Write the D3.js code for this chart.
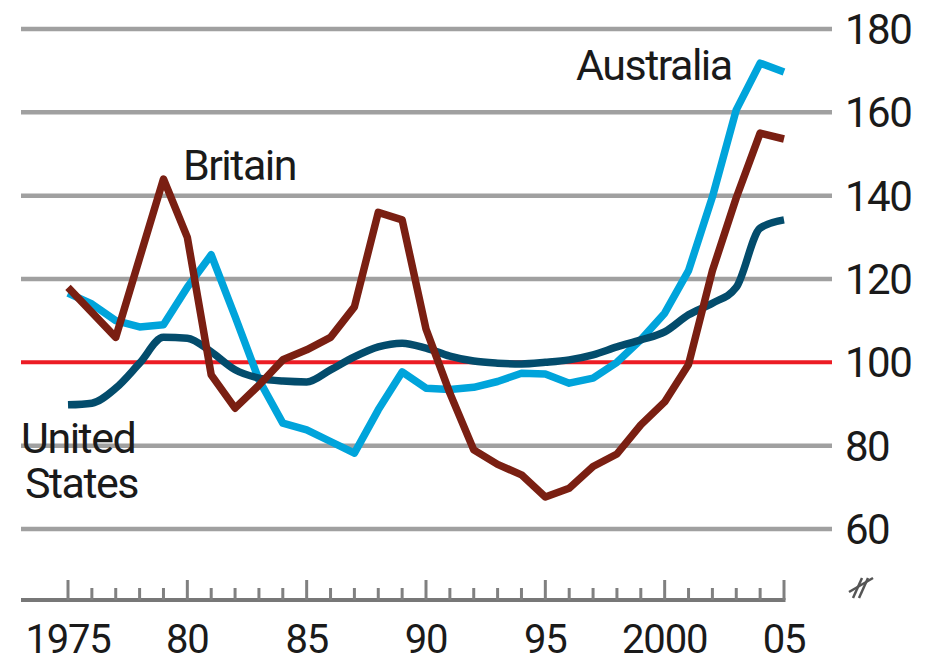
<!DOCTYPE html>
<html>
<head>
<meta charset="utf-8">
<script src="https://cdn.jsdelivr.net/npm/d3@7"></script>
<style>
  html, body { margin: 0; padding: 0; background: #fff; }
  svg { display: block; }
  text { font-family: Roboto, "DejaVu Sans", sans-serif; fill: #1a1a1a; }
</style>
</head>
<body>
<svg id="chart" width="927" height="664"></svg>
<script>
// ---- data ----
const years = [1975, 1976, 1977, 1978, 1979, 1980, 1981, 1982, 1983, 1984,
               1985, 1986, 1987, 1988, 1989, 1990, 1991, 1992, 1993, 1994,
               1995, 1996, 1997, 1998, 1999, 2000, 2001, 2002, 2003, 2004, 2005];
const britain = [118, 112, 106, 125, 144, 130, 97, 89, 94.5, 100.6,
                 103, 106, 113.3, 136, 134.2, 108, 92.6, 79, 75.5, 73,
                 67.7, 69.8, 75, 78, 85, 90.5, 99.5, 122, 139.5, 155, 153.6];
const australia = [116.6, 114, 110, 108.5, 109, 118, 125.8, 111, 95.8, 85.4,
                   83.8, 81, 78.2, 88.6, 97.7, 93.8, 93.5, 94, 95.4, 97.4,
                   97.2, 95, 96.2, 100, 105.4, 111.8, 122, 139.7, 160.6, 171.8, 169.7];
const unitedStates = [89.8, 90.2, 93.8, 99.8, 106, 105.8, 102.5, 98.2, 96.2, 95.5,
                      95.3, 98.2, 101.3, 103.7, 104.6, 103.4, 101.5, 100.3, 99.8, 99.6,
                      100, 100.6, 101.8, 103.7, 105.4, 107.3, 111.4, 114.2, 118, 132.2, 134.2];
const yTicks = [60, 80, 100, 120, 140, 160, 180];
const xMajorTicks = [1975, 1980, 1985, 1990, 1995, 2000, 2005];
const xTickLabels = ["1975", "80", "85", "90", "95", "2000", "05"];
const seriesNames = ["Australia", "United States", "Britain"];
const seriesColors = ["#00a4db", "#034c6c", "#7a1f12"];

// ---- scales ----
const svg = d3.select("#chart");
const x = d3.scaleLinear().domain([1975, 2005]).range([68, 784]);
const y = d3.scaleLinear().domain([60, 180]).range([529, 29]);
const gridLeft = 21, gridRight = 832;

// gridlines
svg.append("g").selectAll("line")
  .data(yTicks.filter(v => v !== 100))
  .join("line")
  .attr("x1", gridLeft).attr("x2", gridRight)
  .attr("y1", d => y(d)).attr("y2", d => y(d))
  .attr("stroke", "#a0a0a0").attr("stroke-width", 4.5);

// red reference line at 100
svg.append("line")
  .attr("x1", gridLeft).attr("x2", gridRight)
  .attr("y1", y(100)).attr("y2", y(100))
  .attr("stroke", "#ec1c24").attr("stroke-width", 4);

// y labels (right)
svg.append("g").selectAll("text")
  .data(yTicks)
  .join("text")
  .attr("x", 845)
  .attr("y", d => y(d) + 15)
  .attr("font-size", 42)
  .attr("letter-spacing", -1.5)
  .text(d => d);

// x axis
const xAxisY = 600;
svg.append("line")
  .attr("x1", gridLeft).attr("x2", x(2005) + 1.5)
  .attr("y1", xAxisY).attr("y2", xAxisY)
  .attr("stroke", "#777").attr("stroke-width", 4);
svg.append("g").selectAll("line")
  .data(years)
  .join("line")
  .attr("x1", d => x(d)).attr("x2", d => x(d))
  .attr("y1", xAxisY)
  .attr("y2", d => xMajorTicks.includes(d) ? xAxisY - 20 : xAxisY - 12)
  .attr("stroke", "#808080").attr("stroke-width", 3);

svg.append("g").selectAll("text")
  .data(xMajorTicks)
  .join("text")
  .attr("x", d => x(d))
  .attr("y", 653)
  .attr("text-anchor", "middle")
  .attr("font-size", 40)
  .attr("letter-spacing", -1.2)
  .text((d, i) => xTickLabels[i]);

// axis break symbol
const br = svg.append("g").attr("stroke", "#555").attr("stroke-width", 2.5).attr("fill", "none");
br.append("path").attr("d", "M849,592 L873,578");
br.append("path").attr("d", "M853,598 L862,578");
br.append("path").attr("d", "M859,598 L868,578");

// series lines
const seriesData = [australia, unitedStates, britain];
const seriesCurves = [d3.curveLinear, d3.curveMonotoneX, d3.curveLinear];
svg.append("g").selectAll("path")
  .data(seriesData)
  .join("path")
  .attr("d", (d, i) => d3.line()
      .x((v, j) => x(years[j]))
      .y(v => y(v))
      .curve(seriesCurves[i])(d))
  .attr("fill", "none")
  .attr("stroke", (d, i) => seriesColors[i])
  .attr("stroke-width", 7.5)
  .attr("stroke-linejoin", "round")
  .attr("stroke-linecap", "butt");

// series labels
const lab = svg.append("g").attr("font-size", 43).attr("letter-spacing", -1.5);
lab.append("text").attr("x", 183).attr("y", 180).text("Britain");
lab.append("text").attr("x", 576).attr("y", 80).text("Australia");
lab.append("text").attr("x", 21).attr("y", 453).text("United");
lab.append("text").attr("x", 25).attr("y", 498).text("States");
</script>
</body>
</html>
